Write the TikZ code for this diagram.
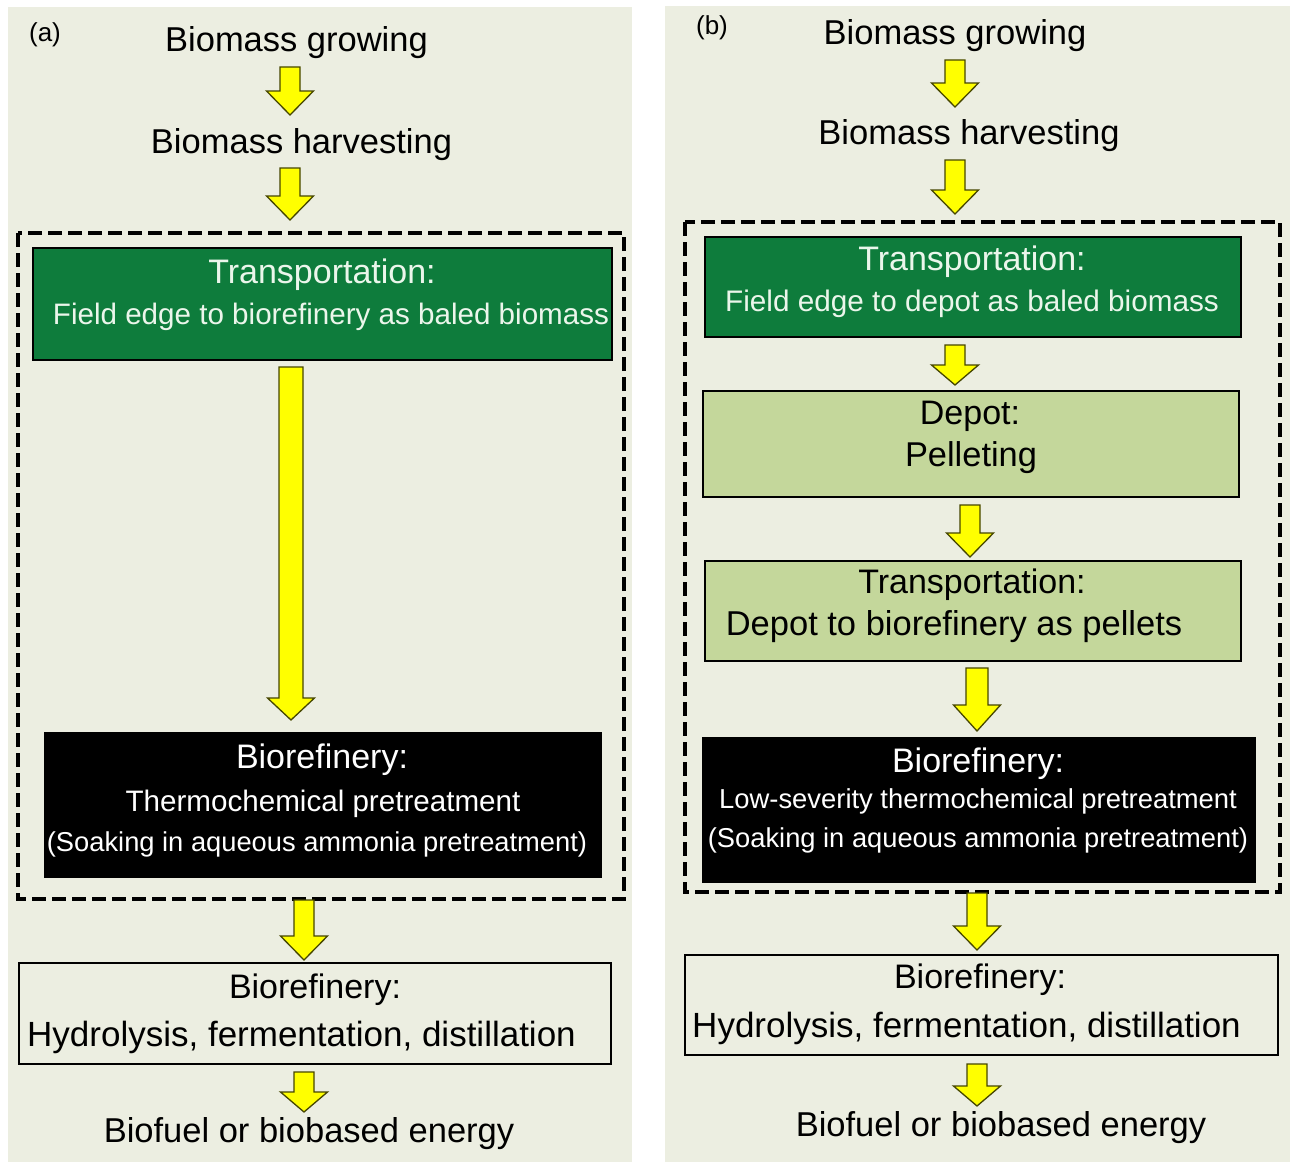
\documentclass[tikz,border=0pt]{standalone}
\usepackage{fontspec}
\setmainfont{Liberation Sans}
\definecolor{panelbg}{RGB}{236,238,225}
\definecolor{dkgreen}{RGB}{14,124,60}
\definecolor{ltgreen}{RGB}{196,215,155}
\definecolor{arrowline}{RGB}{70,70,0}
\definecolor{arrowfill}{RGB}{255,255,0}
\definecolor{greentxt}{RGB}{235,246,235}
\newcommand\fs[1]{\fontsize{#1}{#1}\selectfont}
% block arrow: x, ytop, ytip, head length, shaft half width
\newcommand\barrow[5]{%
  \draw[arrowsty] ({#1-#5},#2) -- ({#1+#5},#2) -- ({#1+#5},{#3-#4}) -- ({#1+23.5},{#3-#4})
    -- (#1,#3) -- ({#1-23.5},{#3-#4}) -- ({#1-#5},{#3-#4}) -- cycle;}
\tikzset{
  arrowsty/.style={fill=arrowfill, draw=arrowline, line width=1.3pt, line join=miter},
  txt/.style={anchor=base, inner sep=0pt, text=black},
  wtxt/.style={anchor=base, inner sep=0pt, text=white},
  gtxt/.style={anchor=base, inner sep=0pt, text=greentxt},
  boxsty/.style={draw=black, line width=1.2pt, inner sep=0pt},
  dashbox/.style={draw=black, line width=4.5pt, dash pattern=on 14pt off 6pt},
}
\begin{document}
\begin{tikzpicture}[x=1pt,y=-1pt]
\useasboundingbox (0,0) rectangle (1290,1164);
\fill[white] (0,0) rectangle (1290,1164);
% panels
\fill[panelbg] (8,7) rectangle (632,1162);
\fill[panelbg] (665,6) rectangle (1290,1162);

% ================= panel (a) =================
\node[txt, font=\fs{26}] (la) at (45,42) {(a)};
\node[txt, font=\fs{34.5}] (ag) at (296.5,52) {Biomass growing};
\node[txt, font=\fs{34.5}] (ah) at (301.5,153) {Biomass harvesting};
\barrow{290}{67}{115}{24}{10}
\barrow{290}{168}{220}{24}{10}

\draw[dashbox] (18,233) rectangle (624,899);

\node[boxsty, fill=dkgreen, minimum width=579pt, minimum height=112pt] (atr) at (322.5,304) {};
\node[gtxt, font=\fs{34}] (atr1) at (322,283) {Transportation:};
\node[gtxt, font=\fs{29.6}] (atr2) at (331,324) {Field edge to biorefinery as baled biomass};

\barrow{291}{367}{720}{22}{12}

\node[boxsty, fill=black, minimum width=556pt, minimum height=144pt] (abr) at (323,805) {};
\node[wtxt, font=\fs{34}] (abr1) at (322,768) {Biorefinery:};
\node[wtxt, font=\fs{29.6}] (abr2) at (323,811) {Thermochemical pretreatment};
\node[wtxt, font=\fs{27.3}] (abr3) at (317,851) {(Soaking in aqueous ammonia pretreatment)};

\barrow{304}{900}{960}{24}{10}

\node[boxsty, minimum width=592pt, minimum height=101pt] (ahy) at (315,1013.5) {};
\node[txt, font=\fs{34}] (ahy1) at (315,998) {Biorefinery:};
\node[txt, font=\fs{35}] (ahy2) at (301.5,1046) {Hydrolysis, fermentation, distillation};

\barrow{304}{1072}{1112}{20}{10}
\node[txt, font=\fs{34.5}] (abf) at (309,1142) {Biofuel or biobased energy};

% ================= panel (b) =================
\node[txt, font=\fs{26}] (lb) at (712,35) {(b)};
\node[txt, font=\fs{34.5}] (bg) at (955,45) {Biomass growing};
\node[txt, font=\fs{34.5}] (bh) at (969,144) {Biomass harvesting};
\barrow{955}{60}{107}{24}{10}
\barrow{955}{160}{214}{24}{10}

\draw[dashbox] (685,222) rectangle (1280,892);

\node[boxsty, fill=dkgreen, minimum width=536pt, minimum height=100pt] (btr) at (973,287) {};
\node[gtxt, font=\fs{34}] (btr1) at (972,270) {Transportation:};
\node[gtxt, font=\fs{29.7}] (btr2) at (972,311) {Field edge to depot as baled biomass};

\barrow{955}{345}{385}{20}{10}

\node[boxsty, fill=ltgreen, minimum width=536pt, minimum height=106pt] (bdp) at (971,444) {};
\node[txt, font=\fs{34}] (bdp1) at (970,424) {Depot:};
\node[txt, font=\fs{34.4}] (bdp2) at (971,466) {Pelleting};

\barrow{970}{505}{557}{24}{10}

\node[boxsty, fill=ltgreen, minimum width=536pt, minimum height=100pt] (btp) at (973,611) {};
\node[txt, font=\fs{34}] (btp1) at (972,593) {Transportation:};
\node[txt, font=\fs{34.5}] (btp2) at (954,635) {Depot to biorefinery as pellets};

\barrow{977}{668}{731}{26}{11}

\node[boxsty, fill=black, minimum width=552pt, minimum height=144pt] (bbr) at (979,810) {};
\node[wtxt, font=\fs{34}] (bbr1) at (978,772) {Biorefinery:};
\node[wtxt, font=\fs{27.4}] (bbr2) at (978,808) {Low-severity thermochemical pretreatment};
\node[wtxt, font=\fs{27.3}] (bbr3) at (978,847) {(Soaking in aqueous ammonia pretreatment)};

\barrow{977}{893}{950}{24}{10}

\node[boxsty, minimum width=593pt, minimum height=100pt] (bhy) at (981.5,1005) {};
\node[txt, font=\fs{34}] (bhy1) at (980,988) {Biorefinery:};
\node[txt, font=\fs{35}] (bhy2) at (966.5,1037) {Hydrolysis, fermentation, distillation};

\barrow{977}{1064}{1106}{20}{10}
\node[txt, font=\fs{34.5}] (bbf) at (1001,1136) {Biofuel or biobased energy};
\end{tikzpicture}
\end{document}
